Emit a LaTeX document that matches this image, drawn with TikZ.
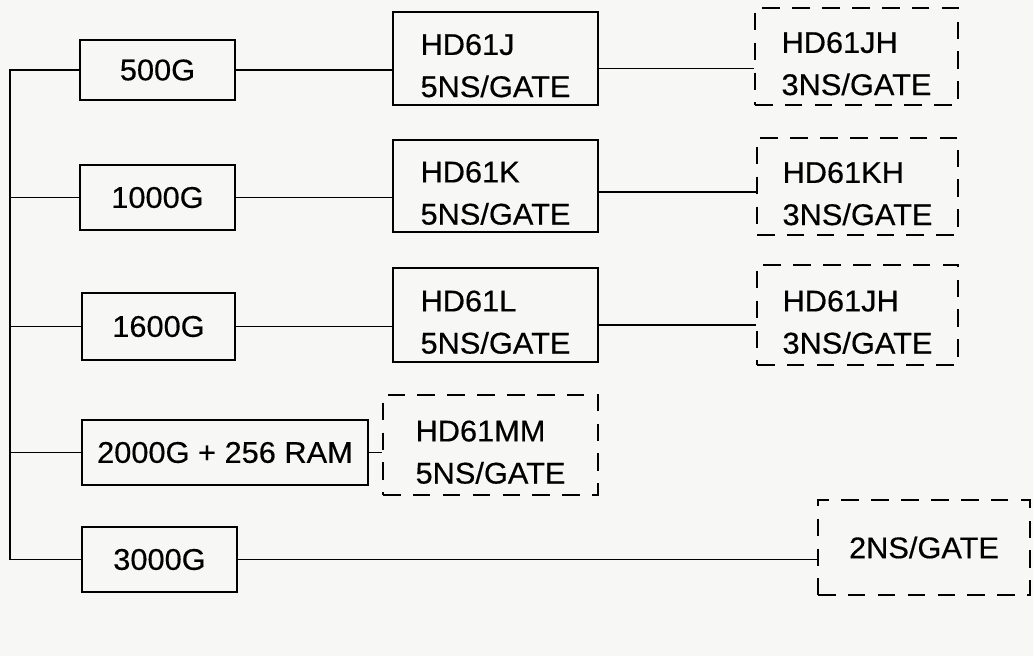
\documentclass[tikz,border=0pt]{standalone}
\usepackage{fontspec}
\setmainfont{Liberation Sans}[FakeBold=0.4, FakeStretch=1.03]
\definecolor{paper}{HTML}{F7F7F5}
\usetikzlibrary{positioning, calc}
\tikzset{
	gatebox/.style={
			draw=black,
			line width=1.2pt,
			fill=none,
			inner sep=0pt,
			align=left,
			font=\fontsize{17}{24}\selectfont
		},
	twoline/.style={
			text height=44pt
		},
	futurebox/.style={
			gatebox,
			dash pattern=on 10pt off 7pt
		},
	link/.style={
			draw=black,
			line width=1.1pt
		}
}

\begin{document}
\begin{tikzpicture}
\fill[paper] (0,0) rectangle (20.66,-13.12);
\useasboundingbox (0,0) rectangle (20.66,-13.12);

% gate counts
\node[gatebox, minimum width=3.1cm, minimum height=1.2cm] (g500) at (3.15,-1.40) {500G};
\node[gatebox, minimum width=3.1cm, minimum height=1.3cm] (g1000) at (3.15,-3.95) {1000G};
\node[gatebox, minimum width=3.06cm, minimum height=1.34cm] (g1600) at (3.17,-6.53) {1600G};
\node[gatebox, minimum width=5.72cm, minimum height=1.3cm] (g2000) at (4.5,-9.05) {2000G + 256 RAM};
\node[gatebox, minimum width=3.1cm, minimum height=1.3cm] (g3000) at (3.19,-11.19) {3000G};

% 5ns parts
\node[gatebox, twoline, minimum width=4.1cm, minimum height=1.86cm] (hdJ) at (9.91,-1.17) {HD61J\\5NS/GATE};
\node[gatebox, twoline, minimum width=4.1cm, minimum height=1.84cm] (hdK) at (9.91,-3.72) {HD61K\\5NS/GATE};
\node[gatebox, twoline, minimum width=4.1cm, minimum height=1.88cm] (hdL) at (9.91,-6.30) {HD61L\\5NS/GATE};
\node[futurebox, twoline, minimum width=4.3cm, minimum height=2.0cm] (hdMM) at (9.81,-8.90) {HD61MM\\5NS/GATE};

% faster parts
\node[futurebox, twoline, minimum width=4.06cm, minimum height=1.94cm] (hdJH) at (17.13,-1.13) {HD61JH\\3NS/GATE};
\node[futurebox, twoline, minimum width=4.02cm, minimum height=1.94cm] (hdKH) at (17.15,-3.73) {HD61KH\\3NS/GATE};
\node[futurebox, twoline, minimum width=4.02cm, minimum height=2.0cm] (hdJHb) at (17.15,-6.30) {HD61JH\\3NS/GATE};
\node[futurebox, minimum width=4.24cm, minimum height=1.9cm] (ns2) at (18.48,-10.95) {2NS/GATE};

\coordinate (rail) at (0.2,-5);

\draw[link] (g500.west) -| (rail) |- (g3000.west);
\draw[link] (g1000.west) -- (g1000.west -| rail);
\draw[link] (g1600.west) -- (g1600.west -| rail);
\draw[link] (g2000.west) -- (g2000.west -| rail);

\draw[link] (g500.east) -- (g500.east -| hdJ.west);
\draw[link] (g1000.east) -- (g1000.east -| hdK.west);
\draw[link] (g1600.east) -- (g1600.east -| hdL.west);
\draw[link] (g2000.east) -- (g2000.east -| hdMM.west);
\draw[link] (g3000.east) -- (g3000.east -| ns2.west);

\draw[link] ([yshift=-0.2cm]hdJ.east) -- ([yshift=-0.2cm]hdJ.east -| hdJH.west);
\draw[link] ([yshift=-0.12cm]hdK.east) -- ([yshift=-0.12cm]hdK.east -| hdKH.west);
\draw[link] ([yshift=-0.2cm]hdL.east) -- ([yshift=-0.2cm]hdL.east -| hdJHb.west);
\end{tikzpicture}
\end{document}
